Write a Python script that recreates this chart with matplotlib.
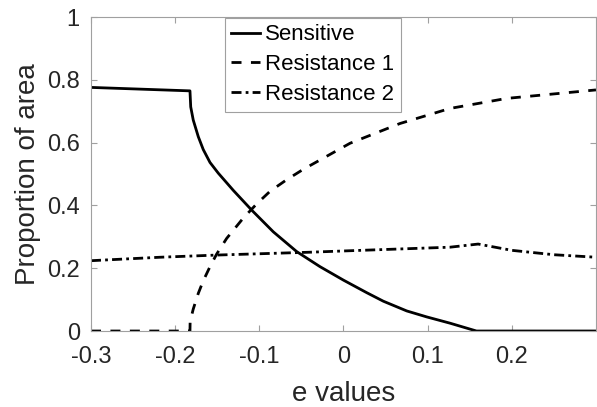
import matplotlib
matplotlib.use('Agg')
import matplotlib.pyplot as plt

plt.rcParams['font.family'] = ['Liberation Sans', 'DejaVu Sans']

# Sensitive fraction vs e
sens_x = [-0.3, -0.1824, -0.1815, -0.1785, -0.1725, -0.1666, -0.1586, -0.1488, -0.1309,
          -0.109, -0.0834, -0.0556, -0.0279, 0.0, 0.0277, 0.0473, 0.0751, 0.0988,
          0.1265, 0.158, 0.3]
sens_y = [0.776, 0.765, 0.714, 0.672, 0.619, 0.578, 0.537, 0.503, 0.448,
          0.385, 0.316, 0.253, 0.205, 0.162, 0.122, 0.095, 0.064, 0.045,
          0.025, 0.0, 0.0]

# Resistance 1 fraction
res1_x = [-0.3, -0.1824, -0.1822, -0.1785, -0.1725, -0.1666, -0.1586, -0.1507, -0.1388,
          -0.119, -0.1031, -0.0873, -0.0675, -0.0478, 0.0077, 0.0671, 0.1265, 0.1939, 0.3]
res1_y = [0.0, 0.0, 0.03, 0.07, 0.12, 0.16, 0.205, 0.245, 0.295,
          0.36, 0.405, 0.445, 0.482, 0.515, 0.598, 0.661, 0.709, 0.741, 0.768]

# Resistance 2 fraction
res2_x = [-0.3, -0.218, -0.15, -0.04, 0.0, 0.1265, 0.16, 0.2, 0.25, 0.3]
res2_y = [0.224, 0.235, 0.242, 0.251, 0.255, 0.267, 0.277, 0.257, 0.243, 0.235]

x_ticks = [-0.3, -0.2, -0.1, 0, 0.1, 0.2]
x_ticklabels = ['-0.3', '-0.2', '-0.1', '0', '0.1', '0.2']
y_ticks = [0, 0.2, 0.4, 0.6, 0.8, 1]
y_ticklabels = ['0', '0.2', '0.4', '0.6', '0.8', '1']

fig = plt.figure(figsize=(5.97, 4.07), dpi=100)
ax = fig.add_axes([0.1524, 0.1867, 0.8459, 0.7713])

lw = 2.0
ax.plot(sens_x, sens_y, '-', color='black', lw=lw, label='Sensitive')
ax.plot(res1_x, res1_y, '--', color='black', lw=lw, dashes=(3.6, 3.4), label='Resistance 1')
ax.plot(res2_x, res2_y, '-.', color='black', lw=lw, dashes=(3.6, 1.5, 1.0, 1.5), label='Resistance 2')

ax.set_xlim(-0.3, 0.3)
ax.set_ylim(0, 1)
ax.set_xticks(x_ticks)
ax.set_xticklabels(x_ticklabels)
ax.set_yticks(y_ticks)
ax.set_yticklabels(y_ticklabels)

grey = '#262626'
for s in ax.spines.values():
  s.set_color('#a0a0a0')
  s.set_linewidth(0.8)
ax.tick_params(direction='in', length=4, width=0.8, color='#a0a0a0',
               labelcolor=grey, labelsize=17, top=True, right=True, pad=8)
ax.tick_params(axis='x', pad=11)

ax.set_xlabel('e values', fontsize=20, color=grey, labelpad=9)
ax.set_ylabel('Proportion of area', fontsize=20, color=grey, labelpad=4)

leg = ax.legend(loc='upper left', bbox_to_anchor=(0.265, 0.998), fontsize=16,
                frameon=True, fancybox=False, framealpha=1, edgecolor='#a0a0a0',
                handlelength=1.3, handletextpad=0.2, labelspacing=0.4,
                borderpad=0.3, borderaxespad=0)
leg.get_frame().set_linewidth(0.8)
for t in leg.get_texts():
  t.set_color('black')

fig.savefig('out.png', dpi=100)
